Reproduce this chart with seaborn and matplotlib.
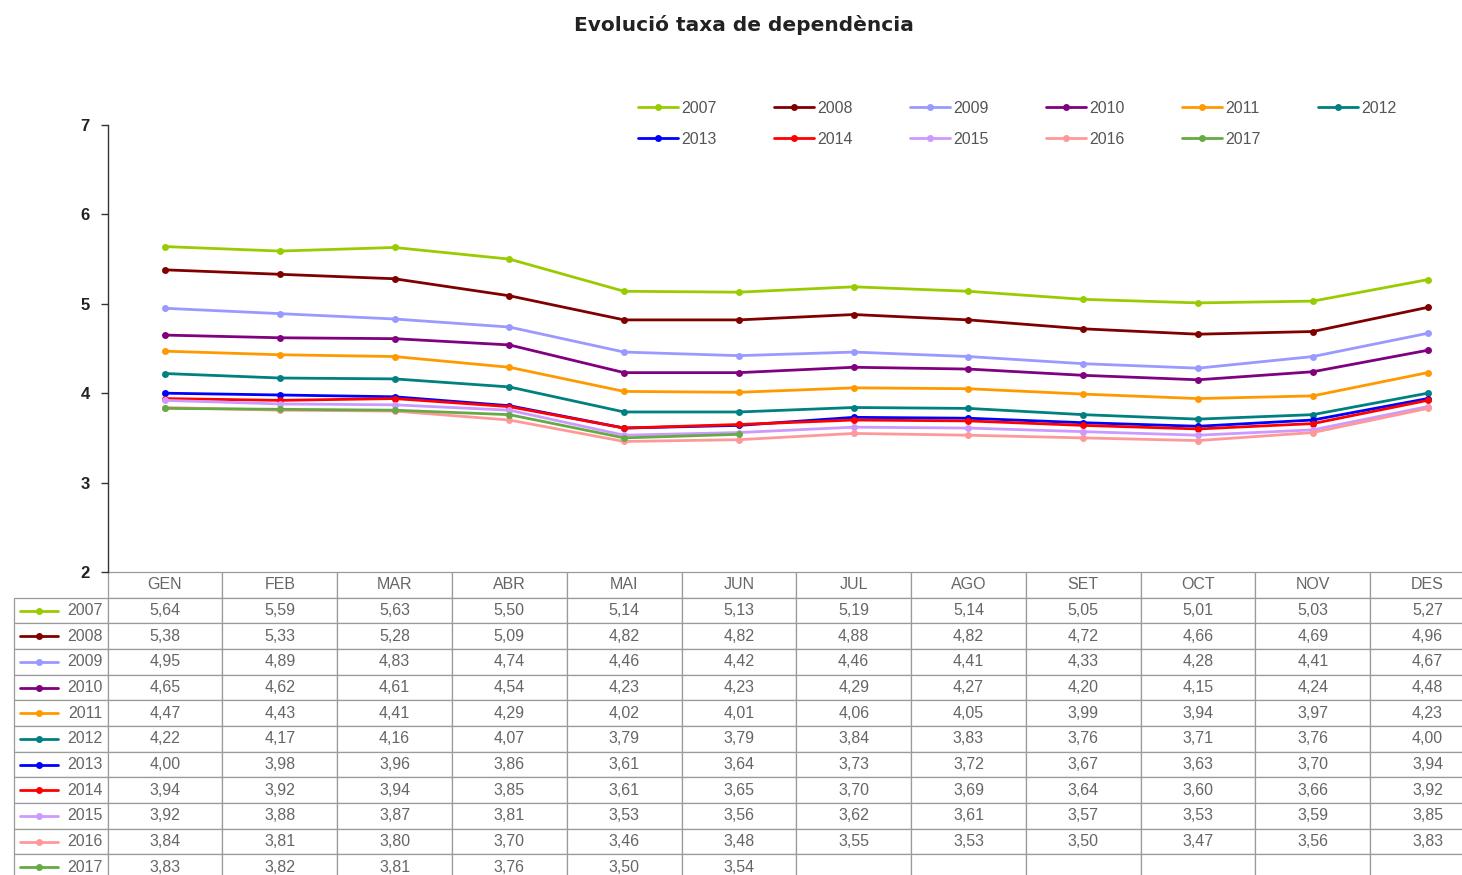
import numpy as np
import pandas as pd
import matplotlib.pyplot as plt
import seaborn as sns
from matplotlib.lines import Line2D

# ─────────────────────────────────────────
# Data (taxa de dependència per mes i any)
# ─────────────────────────────────────────
mesos = ['GEN', 'FEB', 'MAR', 'ABR', 'MAI', 'JUN',
         'JUL', 'AGO', 'SET', 'OCT', 'NOV', 'DES']
anys = ['2007', '2008', '2009', '2010', '2011', '2012',
        '2013', '2014', '2015', '2016', '2017']

taxa_2007 = [5.64, 5.59, 5.63, 5.50, 5.14, 5.13, 5.19, 5.14, 5.05, 5.01, 5.03, 5.27]
taxa_2008 = [5.38, 5.33, 5.28, 5.09, 4.82, 4.82, 4.88, 4.82, 4.72, 4.66, 4.69, 4.96]
taxa_2009 = [4.95, 4.89, 4.83, 4.74, 4.46, 4.42, 4.46, 4.41, 4.33, 4.28, 4.41, 4.67]
taxa_2010 = [4.65, 4.62, 4.61, 4.54, 4.23, 4.23, 4.29, 4.27, 4.20, 4.15, 4.24, 4.48]
taxa_2011 = [4.47, 4.43, 4.41, 4.29, 4.02, 4.01, 4.06, 4.05, 3.99, 3.94, 3.97, 4.23]
taxa_2012 = [4.22, 4.17, 4.16, 4.07, 3.79, 3.79, 3.84, 3.83, 3.76, 3.71, 3.76, 4.00]
taxa_2013 = [4.00, 3.98, 3.96, 3.86, 3.61, 3.64, 3.73, 3.72, 3.67, 3.63, 3.70, 3.94]
taxa_2014 = [3.94, 3.92, 3.94, 3.85, 3.61, 3.65, 3.70, 3.69, 3.64, 3.60, 3.66, 3.92]
taxa_2015 = [3.92, 3.88, 3.87, 3.81, 3.53, 3.56, 3.62, 3.61, 3.57, 3.53, 3.59, 3.85]
taxa_2016 = [3.84, 3.81, 3.80, 3.70, 3.46, 3.48, 3.55, 3.53, 3.50, 3.47, 3.56, 3.83]
taxa_2017 = [3.83, 3.82, 3.81, 3.76, 3.50, 3.54]

series = [taxa_2007, taxa_2008, taxa_2009, taxa_2010, taxa_2011, taxa_2012,
          taxa_2013, taxa_2014, taxa_2015, taxa_2016, taxa_2017]

colors = ['#99CC00', '#800000', '#9999FF', '#800080', '#FF9900', '#008080',
          '#0000FF', '#FF0000', '#CC99FF', '#FF9999', '#66AA44']
palette = dict(zip(anys, colors))

# long-form table for seaborn
rows = []
for yr, vals in zip(anys, series):
    for i, v in enumerate(vals):
        rows.append({'any': yr, 'mes': i, 'taxa': v})
df = pd.DataFrame(rows)

# ─────────────────────────────────────────
# Figure
# ─────────────────────────────────────────
sns.set_style('white')
plt.rcParams['font.family'] = ['Liberation Sans', 'DejaVu Sans']

W, H = 1462, 875
fig = plt.figure(figsize=(W / 100, H / 100), dpi=100)

ax_l, ax_r, ax_t, ax_b = 107.6, 1485.0, 125.0, 572.0
ax = fig.add_axes([ax_l / W, 1 - ax_b / H, (ax_r - ax_l) / W, (ax_b - ax_t) / H])

sns.lineplot(data=df, x='mes', y='taxa', hue='any', palette=palette,
             estimator=None, sort=False, marker='o', markersize=5,
             markeredgewidth=0, linewidth=2, legend=False, ax=ax)

ax.set_xlim(-0.5, 11.5)
ax.set_ylim(2, 7)
ax.set_yticks(range(2, 8))
ax.set_xticks([])
ax.set_xlabel('')
ax.set_ylabel('')
for s in ['top', 'right', 'bottom']:
    ax.spines[s].set_visible(False)
ax.spines['left'].set_color('#333333')
ax.spines['left'].set_linewidth(1)
ax.tick_params(axis='y', left=True, length=5, width=1, color='#333333',
               labelsize=12, pad=8, labelcolor='#222222')
for lab in ax.get_yticklabels():
    lab.set_fontweight('bold')

# ─────────────────────────────────────────
# Data table under the plot
# ─────────────────────────────────────────
def fmt(v):
    return f"{v:.2f}".replace('.', ',')

cell_text = [[yr] + [fmt(v) for v in vals] + [''] * (12 - len(vals))
             for yr, vals in zip(anys, series)]

tab_l, tab_r, tab_bot = 14.0, 1485.0, 880.0
ax_w = ax_r - ax_l
ax_h = ax_b - ax_t
tab_w = tab_r - tab_l
month_w = (ax_r - ax_l) / 12
label_w = ax_l - tab_l

tbl = ax.table(cellText=cell_text, colLabels=[''] + mesos,
               colWidths=[label_w / tab_w] + [month_w / tab_w] * 12,
               cellLoc='center', colLoc='center',
               bbox=[(tab_l - ax_l) / ax_w, -(tab_bot - ax_b) / ax_h,
                     tab_w / ax_w, (tab_bot - ax_b) / ax_h])
tbl.auto_set_font_size(False)
tbl.set_fontsize(11.5)
for (r, c), cell in tbl.get_celld().items():
    cell.set_edgecolor('#9a9a9a')
    cell.set_linewidth(0.9)
    cell.get_text().set_color('#666666')
    if c == 0:
        cell.get_text().set_horizontalalignment('right')
        cell.PAD = 0.05
        if r == 0:
            cell.visible_edges = 'open'

# line samples in the row label column
row_h = (tab_bot - ax_b) / 12
x0 = (20 - ax_l) / ax_w
x1 = (58 - ax_l) / ax_w
for i, (yr, col) in enumerate(zip(anys, colors)):
    yc = -(row_h * (i + 1.5)) / ax_h
    ax.plot([x0, x1], [yc, yc], color=col, lw=2, transform=ax.transAxes,
            clip_on=False)
    ax.plot([(x0 + x1) / 2], [yc], color=col, marker='o', ms=5, mew=0,
            transform=ax.transAxes, clip_on=False)

# ─────────────────────────────────────────
# Legend (row-major order for 6 columns)
# ─────────────────────────────────────────
order = [0, 6, 1, 7, 2, 8, 3, 9, 4, 10, 5]
handles = [Line2D([], [], color=colors[i], lw=2, marker='o', ms=5, mew=0)
           for i in order]
labels = [anys[i] for i in order]
fig.legend(handles, labels, ncol=6, loc='upper left',
           bbox_to_anchor=(638 / W, 1 - 101 / H), frameon=False,
           fontsize=11.5, labelcolor='#555555', handlelength=2.5,
           handletextpad=0.2, columnspacing=3.6, labelspacing=1.0,
           borderpad=0, borderaxespad=0)

fig.text(744 / W, 1 - 25 / H, 'Evolució taxa de dependència',
         ha='center', va='center', fontsize=14.5, fontweight='bold',
         family='DejaVu Sans', color='#222222')

fig.savefig('out.png', dpi=100)
